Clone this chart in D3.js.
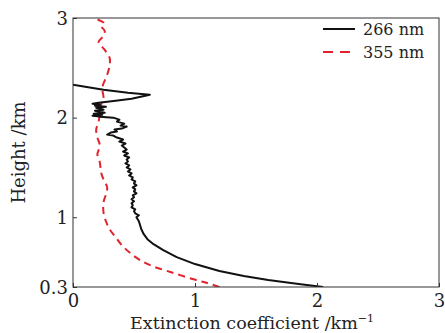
<html>
<head>
  <script src="https://d3js.org/d3.v7.min.js"></script>
  <style>
    body { margin: 0; padding: 0; background: white; overflow: hidden; }
    svg { display: block; }
    text { font-family: "DejaVu Serif", "Liberation Serif", serif; fill: #222; }
  </style>
</head>
<body>
  <svg width="445" height="333"></svg>
  <script>
    // extinction coefficient (km^-1) vs height (km)
    const xTicks = [0, 1, 2, 3];
    const yTicks = [0.3, 1, 2, 3];
    const seriesNames = ["266 nm", "355 nm"];

    const ext266 = [2.05, 1.85, 1.6, 1.4, 1.2, 1.0, 0.85, 0.74, 0.66, 0.61, 0.58, 0.56, 0.55, 0.54,
      0.52, 0.54, 0.51, 0.50, 0.51, 0.48, 0.49, 0.48, 0.50, 0.48, 0.50, 0.49, 0.52, 0.50, 0.51, 0.49,
      0.52, 0.50, 0.51, 0.48, 0.49, 0.46, 0.48, 0.45, 0.47, 0.44, 0.46, 0.43, 0.45, 0.44, 0.46, 0.42,
      0.45, 0.41, 0.44, 0.42, 0.40, 0.43, 0.38, 0.41, 0.36, 0.33, 0.28, 0.31, 0.36, 0.34, 0.40, 0.44,
      0.39, 0.42, 0.36, 0.38, 0.33, 0.22, 0.16, 0.24, 0.17, 0.26, 0.18, 0.25, 0.19, 0.27, 0.18, 0.22,
      0.16, 0.21, 0.35, 0.48, 0.63, 0.45, 0.25, 0.10, 0.0];
    const h266 = [0.30, 0.33, 0.37, 0.41, 0.46, 0.53, 0.60, 0.67, 0.73, 0.78, 0.83, 0.88, 0.92, 0.96,
      1.00, 1.02, 1.04, 1.06, 1.08, 1.10, 1.12, 1.14, 1.16, 1.18, 1.20, 1.22, 1.24, 1.26, 1.28, 1.30,
      1.32, 1.34, 1.36, 1.38, 1.40, 1.42, 1.44, 1.46, 1.48, 1.50, 1.52, 1.54, 1.56, 1.58, 1.60, 1.62,
      1.64, 1.66, 1.68, 1.70, 1.72, 1.74, 1.76, 1.78, 1.80, 1.82, 1.83, 1.85, 1.86, 1.88, 1.89, 1.91,
      1.92, 1.94, 1.96, 1.98, 2.00, 2.01, 2.02, 2.03, 2.04, 2.05, 2.07, 2.08, 2.10, 2.11, 2.12, 2.13,
      2.14, 2.15, 2.17, 2.19, 2.23, 2.25, 2.28, 2.31, 2.33];

    const ext355 = [1.2, 1.1, 0.98, 0.8, 0.65, 0.55, 0.47, 0.40, 0.35, 0.30, 0.27, 0.25, 0.25, 0.27, 0.28,
      0.25, 0.23, 0.22, 0.20, 0.22, 0.20, 0.19, 0.21, 0.22, 0.23, 0.25, 0.24, 0.28, 0.30, 0.30,
      0.26, 0.21, 0.25, 0.26, 0.23, 0.25, 0.19];
    const h355 = [0.30, 0.34, 0.38, 0.45, 0.51, 0.57, 0.64, 0.72, 0.80, 0.88, 0.96, 1.05, 1.15, 1.23, 1.30,
      1.38, 1.45, 1.55, 1.63, 1.72, 1.80, 1.88, 1.96, 2.05, 2.13, 2.20, 2.30, 2.43, 2.52, 2.60,
      2.68, 2.76, 2.82, 2.87, 2.92, 2.95, 2.99];

    const svg = d3.select("svg"),
          margin = { top: 18, right: 6, bottom: 46, left: 73 },
          width = +svg.attr("width") - margin.left - margin.right,
          height = +svg.attr("height") - margin.top - margin.bottom,
          g = svg.append("g").attr("transform", "translate(" + margin.left + "," + margin.top + ")");

    const xScale = d3.scaleLinear().domain([0, 3]).range([0, width]);
    const yScale = d3.scaleLinear().domain([0.3, 3]).range([height, 0]);

    svg.append("clipPath").attr("id", "clip")
      .append("rect").attr("width", width).attr("height", height);

    const line = d3.line()
        .x(d => xScale(d[0]))
        .y(d => yScale(d[1]));

    const data266 = ext266.map((v, i) => [v, h266[i]]);
    const data355 = ext355.map((v, i) => [v, h355[i]]);

    // Draw the curves
    const plot = g.append("g").attr("clip-path", "url(#clip)");
    plot.append("path")
        .datum(data355)
        .attr("fill", "none")
        .attr("stroke", "#e3232c")
        .attr("stroke-width", 2)
        .attr("stroke-dasharray", "7,5")
        .attr("d", line.curve(d3.curveCatmullRom));

    plot.append("path")
        .datum(data266)
        .attr("fill", "none")
        .attr("stroke", "#111")
        .attr("stroke-width", 2)
        .attr("stroke-linejoin", "round")
        .attr("d", line.curve(d3.curveLinear));

    // Axes with inward ticks
    const xAxis = d3.axisBottom(xScale).tickValues(xTicks).tickSizeInner(-4).tickSizeOuter(0).tickPadding(7)
        .tickFormat(d => d);
    const yAxis = d3.axisLeft(yScale).tickValues(yTicks).tickSizeInner(-4).tickSizeOuter(0).tickPadding(5)
        .tickFormat(d => d);

    const gx = g.append("g")
        .attr("transform", "translate(0," + height + ")")
        .call(xAxis);
    const gy = g.append("g").call(yAxis);

    [gx, gy].forEach(a => {
      a.select(".domain").remove();
      a.selectAll("line").attr("stroke", "#333");
      a.selectAll("text").style("font-family", "DejaVu Serif").style("font-size", "18px").attr("fill", "#222");
    });
    gy.selectAll("text").attr("dy", "0.35em");
    gx.selectAll("text").attr("dy", "0.7em");

    // Frame
    g.append("rect")
        .attr("width", width)
        .attr("height", height)
        .attr("fill", "none")
        .attr("stroke", "#333")
        .attr("stroke-width", 1);

    // Legend
    const legend = g.append("g").attr("transform", "translate(" + (width - 116) + ",11)");
    seriesNames.forEach((name, i) => {
      const row = legend.append("g").attr("transform", "translate(0," + (i * 23) + ")");
      row.append("line")
        .attr("x1", 0).attr("x2", 32)
        .attr("stroke", i === 0 ? "#111" : "#e3232c")
        .attr("stroke-width", 2)
        .attr("stroke-dasharray", i === 0 ? null : "10,7");
      row.append("text")
        .attr("x", 40)
        .attr("dy", "0.35em")
        .style("font-size", "16px")
        .text(name);
    });

    // Axis labels
    g.append("text")
      .attr("transform", "rotate(-90)")
      .attr("x", -height / 2)
      .attr("y", -48)
      .style("text-anchor", "middle")
      .style("font-size", "18px")
      .text("Height /km");

    const xl = g.append("text")
      .attr("x", width / 2 - 4)
      .attr("y", height + 42)
      .style("text-anchor", "middle")
      .style("font-size", "17.5px");
    xl.append("tspan").text("Extinction coefficient /km");
    xl.append("tspan").attr("dy", "-7").style("font-size", "11px").text("−1");
  </script>
</body>
</html>
